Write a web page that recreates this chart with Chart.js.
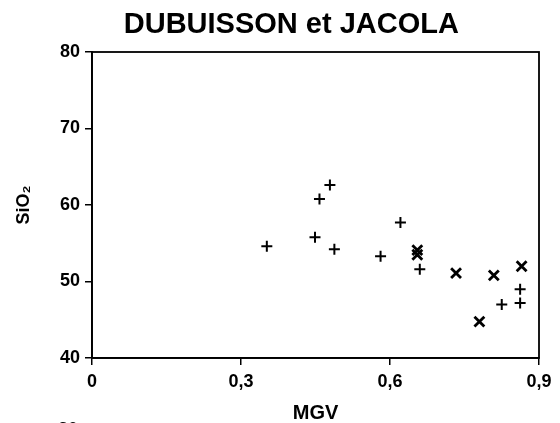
<!DOCTYPE html>
<html>
<head>
<meta charset="utf-8">
<script src="https://cdn.jsdelivr.net/npm/chart.js@4.4.1/dist/chart.umd.min.js"></script>
<style>
  html, body { margin: 0; padding: 0; background: #fff; }
  #wrap { width: 560px; height: 423px; position: relative; }
</style>
</head>
<body>
<div id="wrap"><canvas id="c" width="560" height="423"></canvas></div>
<script>
// ---- data ----
const chartTitle = "DUBUISSON et JACOLA";
const xAxisTitle = "MGV";
const yAxisTitle = "SiO\u2082";
const plusMGV  = [0.352, 0.458, 0.479, 0.449, 0.488, 0.581, 0.621, 0.660, 0.825, 0.862, 0.862];
const plusSiO2 = [54.6, 60.8, 62.6, 55.8, 54.2, 53.3, 57.7, 51.6, 47.0, 49.0, 47.2];
const crossMGV  = [0.655, 0.655, 0.733, 0.809, 0.865, 0.780];
const crossSiO2 = [53.5, 54.1, 51.1, 50.8, 52.0, 44.75];
const xTickValues = [0, 0.3, 0.6, 0.9];
const yTickValues = [40, 50, 60, 70, 80];
const pageFragment = "30";

const toPts = (xs, ys) => xs.map((x, i) => ({ x: x, y: ys[i] }));

const framePlugin = {
  id: 'frame',
  beforeDatasetsDraw(chart) {
    const { ctx, chartArea: a } = chart;
    ctx.save();
    ctx.strokeStyle = '#000';
    ctx.lineWidth = 1.8;
    ctx.strokeRect(a.left, a.top, a.right - a.left, a.bottom - a.top);
    ctx.restore();
  },
  afterDraw(chart) {
    const { ctx, chartArea: a } = chart;
    ctx.save();
    ctx.fillStyle = '#000';
    ctx.font = 'bold 29px "Liberation Sans", Arial, sans-serif';
    ctx.textAlign = 'center';
    ctx.textBaseline = 'alphabetic';
    ctx.fillText(chartTitle, a.left + (a.right - a.left) * 0.446, a.top - 19);
    ctx.font = 'bold 18px "Liberation Sans", Arial, sans-serif';
    ctx.textBaseline = 'top';
    ctx.fillText(pageFragment, a.left - 24, chart.height - 2);
    ctx.restore();
  }
};

new Chart(document.getElementById('c'), {
  type: 'scatter',
  data: {
    datasets: [
      {
        label: 'plus',
        data: toPts(plusMGV, plusSiO2),
        pointStyle: 'cross',
        pointRadius: 5.5,
        pointBorderWidth: 2,
        borderColor: '#000',
        backgroundColor: '#000'
      },
      {
        label: 'cross',
        data: toPts(crossMGV, crossSiO2),
        pointStyle: 'crossRot',
        pointRadius: 7,
        pointBorderWidth: 2.8,
        borderColor: '#000',
        backgroundColor: '#000'
      }
    ]
  },
  options: {
    responsive: false,
    animation: false,
    devicePixelRatio: 1,
    layout: { padding: { top: 52, right: 21, left: 0, bottom: 0 } },
    plugins: {
      legend: { display: false },
      tooltip: { enabled: false },
      title: { display: false }
    },
    scales: {
      x: {
        type: 'linear',
        min: 0, max: 0.9,
        afterBuildTicks: (s) => { s.ticks = xTickValues.map(v => ({ value: v })); },
        afterFit: (s) => { s.height = 65; },
        ticks: {
          color: '#000',
          padding: 6,
          font: { family: '"Liberation Sans", Arial, sans-serif', size: 18, weight: 'bold' },
          callback: (v) => (v === 0 ? '0' : Number(v).toFixed(1).replace('.', ','))
        },
        grid: { display: true, drawOnChartArea: false, drawTicks: true, tickLength: 7, color: '#000', lineWidth: 1.5 },
        border: { display: true, color: '#000', width: 1.8 },
        title: {
          display: true,
          text: xAxisTitle,
          color: '#000',
          font: { family: '"Liberation Sans", Arial, sans-serif', size: 20, weight: 'bold', lineHeight: 1 },
          padding: { top: 0, bottom: 0 }
        }
      },
      y: {
        type: 'linear',
        min: 40, max: 80,
        afterBuildTicks: (s) => { s.ticks = yTickValues.map(v => ({ value: v })); },
        afterFit: (s) => { s.width = 92; },
        ticks: {
          color: '#000',
          padding: 5,
          font: { family: '"Liberation Sans", Arial, sans-serif', size: 18, weight: 'bold' }
        },
        grid: { display: true, drawOnChartArea: false, drawTicks: true, tickLength: 7, color: '#000', lineWidth: 1.5 },
        border: { display: true, color: '#000', width: 1.8 },
        title: {
          display: true,
          text: yAxisTitle,
          color: '#000',
          font: { family: '"Liberation Sans", Arial, sans-serif', size: 18, weight: 'bold', lineHeight: 1.2 },
          padding: { top: 13, bottom: 0 }
        }
      }
    }
  },
  plugins: [framePlugin]
});
</script>
</body>
</html>
